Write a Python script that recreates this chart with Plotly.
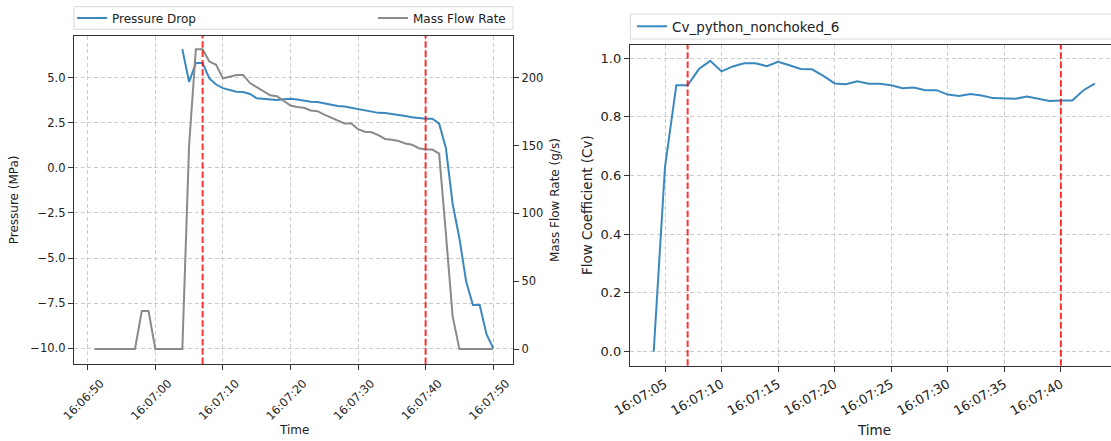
import plotly.graph_objects as go
import pandas as pd

DAY = "2024-01-01 "

# ---------------- data ----------------
left_times = [f"16:06:{s:02d}" for s in range(51, 60)] + [f"16:07:{s:02d}" for s in range(0, 51)]

mass_flow = [0, 0, 0, 0, 0, 0, 0, 28, 28,
             0, 0, 0, 0, 0, 150, 221, 221, 212, 209.5,
             199.5, 200.7, 202, 202, 196, 193, 190, 187, 186.3, 183,
             179.5, 178.3, 177.8, 175.8, 175.3, 172.8, 170.5, 168.8, 166.3, 166.2,
             162, 160.2, 159.7, 157.7, 154.8, 154.3, 153.3, 151.5, 150.5, 148,
             147, 147, 144, 85, 24, 0, 0, 0, 0, 0, 0]

pressure_drop = [None] * 13 + [
    6.58, 4.76, 5.82, 5.82, 4.96, 4.62,
    4.42, 4.3, 4.22, 4.2, 4.1, 3.86, 3.82, 3.76, 3.76, 3.8,
    3.83, 3.79, 3.73, 3.66, 3.65, 3.57, 3.5, 3.43, 3.4, 3.33,
    3.26, 3.18, 3.12, 3.05, 3.04, 3.0, 2.92, 2.88, 2.81, 2.76,
    2.73, 2.72, 2.45, 1.1, -2.0, -3.9, -6.3, -7.6, -7.6, -9.2,
    -10.0]

cv_times = [f"16:07:{s:02d}" for s in range(4, 44)]
cv_values = [0.0, 0.63, 0.908, 0.908, 0.963, 0.991, 0.955, 0.972, 0.983, 0.983,
             0.973, 0.988, 0.976, 0.963, 0.962, 0.94, 0.914, 0.911, 0.921, 0.913,
             0.913, 0.908, 0.898, 0.9, 0.891, 0.891, 0.876, 0.871, 0.878, 0.873,
             0.864, 0.864, 0.862, 0.869, 0.861, 0.854, 0.856, 0.856, 0.891, 0.913]

event_times = ["16:07:07", "16:07:40"]

left_xticks = ["16:06:50", "16:07:00", "16:07:10", "16:07:20", "16:07:30", "16:07:40", "16:07:50"]
right_xticks = ["16:07:05", "16:07:10", "16:07:15", "16:07:20", "16:07:25", "16:07:30", "16:07:35", "16:07:40"]
pressure_ticks = [-10.0, -7.5, -5.0, -2.5, 0.0, 2.5, 5.0]
mass_ticks = [0, 50, 100, 150, 200]
cv_ticks = [0.0, 0.2, 0.4, 0.6, 0.8, 1.0]

# ---------------- styling ----------------
W, H = 1111, 441
FONT = "DejaVu Sans"
AX = "#333333"
GRID = "#cccccc"
BLUE = "rgba(31,119,180,0.88)"
GRAY = "#8a8a8a"
RED = "rgba(255,0,0,0.8)"


def px(x):
    return x / W


def py(y):
    return 1 - y / H


def d(t):
    return pd.Timestamp(DAY + t)


fig = go.Figure()

fig.add_trace(go.Scatter(x=[d(t) for t in left_times], y=pressure_drop, name="Pressure Drop",
                         mode="lines", line=dict(color=BLUE, width=2),
                         xaxis="x", yaxis="y", legend="legend", connectgaps=False))
fig.add_trace(go.Scatter(x=[d(t) for t in left_times], y=mass_flow, name="Mass Flow Rate",
                         mode="lines", line=dict(color=GRAY, width=2),
                         xaxis="x", yaxis="y2", legend="legend2"))
fig.add_trace(go.Scatter(x=[d(t) for t in cv_times], y=cv_values, name="Cv_python_nonchoked_6",
                         mode="lines", line=dict(color=BLUE, width=2),
                         xaxis="x2", yaxis="y3", legend="legend3"))

for t in event_times:
    for xr, yr in (("x", "y"), ("x2", "y3")):
        fig.add_shape(type="line", xref=xr, yref=f"{yr} domain", x0=d(t), x1=d(t), y0=0, y1=1,
                      line=dict(color=RED, width=2, dash="6.5px,2.8px"))

common_axis = dict(showline=True, linecolor=AX, linewidth=1.3, ticks="outside", ticklen=5,
                   tickcolor=AX, tickwidth=1, zeroline=False, showgrid=True, gridcolor=GRID,
                   griddash="4px,2.7px", gridwidth=1, automargin=False)

fig.update_layout(
    width=W, height=H, margin=dict(l=0, r=0, t=0, b=0),
    paper_bgcolor="white", plot_bgcolor="white",
    font=dict(family=FONT, color="#222222"),
    xaxis=dict(common_axis, domain=[px(74), px(513)], anchor="y", type="date",
               range=[d("16:06:47.97"), d("16:07:52.93")], mirror=True,
               tickvals=[d(t) for t in left_xticks], ticktext=left_xticks,
               tickangle=-45, tickfont=dict(size=11.5), ticklabelshift=13,
               ticklabelstandoff=2),
    yaxis=dict(common_axis, domain=[py(364), py(36)], anchor="x", range=[-10.87, 7.31],
               tickvals=pressure_ticks, tickformat=".1f", tickfont=dict(size=11.5), mirror=True),
    yaxis2=dict(common_axis, overlaying="y", side="right", anchor="x", range=[-11.05, 230.7],
                tickvals=mass_ticks, showgrid=False, tickfont=dict(size=11.5)),
    xaxis2=dict(common_axis, domain=[px(630), 1.0], anchor="y3", type="date",
                range=[d("16:07:01.905"), d("16:07:44.43")], mirror=True,
                tickvals=[d(t) for t in right_xticks], ticktext=right_xticks,
                tickangle=-30, tickfont=dict(size=13)),
    yaxis3=dict(common_axis, domain=[py(365.7), py(45)], anchor="x2", range=[-0.048, 1.045],
                tickvals=cv_ticks, tickformat=".1f", tickfont=dict(size=13)),
    legend=dict(x=px(72), xanchor="left", y=py(18), yanchor="middle", bgcolor="rgba(0,0,0,0)",
                font=dict(size=12), itemwidth=30),
    legend2=dict(x=px(373), xanchor="left", y=py(18), yanchor="middle", bgcolor="rgba(0,0,0,0)",
                 font=dict(size=12), itemwidth=30),
    legend3=dict(x=px(632), xanchor="left", y=py(26.5), yanchor="middle", bgcolor="rgba(0,0,0,0)",
                 font=dict(size=13.5), itemwidth=30),
    showlegend=True,
)

# legend frames
fig.add_shape(type="rect", xref="paper", yref="paper", x0=px(74), x1=px(513), y0=py(29.3), y1=py(6.7),
              line=dict(color="#d9d9d9", width=1), fillcolor="rgba(255,255,255,0.8)", layer="below")
fig.add_shape(type="rect", xref="paper", yref="paper", x0=px(630.3), x1=px(1115), y0=py(39.1), y1=py(13.9),
              line=dict(color="#d9d9d9", width=1), fillcolor="rgba(255,255,255,0.8)", layer="below")

# axis titles
titles = [
    ("Pressure (MPa)", 14.3, 200, -90, 12),
    ("Mass Flow Rate (g/s)", 555, 200, -90, 12),
    ("Time", 293.5, 429.5, 0, 12),
    ("Flow Coefficient (Cv)", 587, 205, -90, 13.5),
    ("Time", 874, 429.5, 0, 13.5),
]
for text, x, y, ang, size in titles:
    fig.add_annotation(text=text, x=px(x), y=py(y), xref="paper", yref="paper", showarrow=False,
                       textangle=ang, xanchor="center", yanchor="middle",
                       font=dict(size=size, family=FONT, color="#222222"))

fig.write_html("out.html", config={"displayModeBar": False},
               post_script="document.body.style.margin='0';document.body.style.overflow='hidden';")
